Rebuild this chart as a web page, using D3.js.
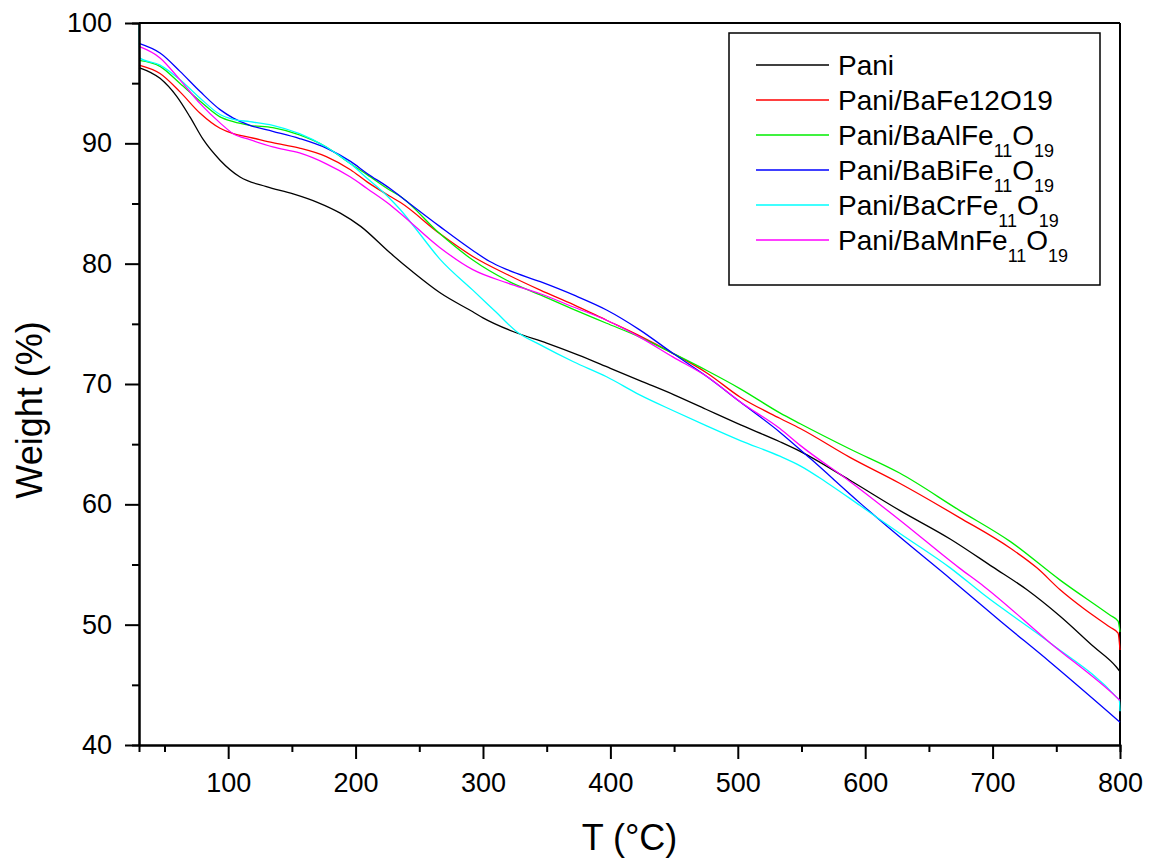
<!DOCTYPE html>
<html><head><meta charset="utf-8">
<script src="https://cdn.jsdelivr.net/npm/d3@7"></script>
<style>
body{margin:0;background:#fff;}
text{font-family:"Liberation Sans",Arial,sans-serif;fill:#000;}
</style></head>
<body><svg id="chart" width="1153" height="865"></svg>
<script>
// ---------- data ----------
const seriesNames = ["Pani","Pani/BaFe12O19","Pani/BaAlFe11O19","Pani/BaBiFe11O19","Pani/BaCrFe11O19","Pani/BaMnFe11O19"];
const legendParts = [
  [["Pani",0]],
  [["Pani/BaFe12O19",0]],
  [["Pani/BaAlFe",0],["11",1],["O",0],["19",1]],
  [["Pani/BaBiFe",0],["11",1],["O",0],["19",1]],
  [["Pani/BaCrFe",0],["11",1],["O",0],["19",1]],
  [["Pani/BaMnFe",0],["11",1],["O",0],["19",1]]
];
const seriesColors = ["#000000","#ff0000","#00ee00","#0000ff","#00ffff","#ff00ff"];

const pani = [[30,96.3],[46.5,95.4],[59.6,93.9],[70,92.2],[80.5,90.3],[93.6,88.6],[109.3,87.2],[130,86.4],[151,85.8],[170,85.1],[188,84.2],[204,83.1],[227,80.9],[245,79.3],[266,77.6],[292,76.0],[300,75.5],[325,74.3],[350,73.4],[375,72.4],[400,71.3],[425,70.2],[450,69.1],[475,67.9],[500,66.7],[533,65.2],[549,64.4],[588,62.0],[627,59.5],[667,57.1],[700,54.8],[727,52.9],[753,50.7],[779,48.2],[797,46.5],[800,46.1]];
const baFe = [[30,96.5],[46.5,95.8],[62,94.3],[78,92.5],[93.6,91.25],[104,90.8],[117,90.5],[135,90.05],[156,89.6],[177,88.9],[196,87.8],[209,86.8],[227,85.6],[235,85.1],[266,82.5],[292,80.6],[319,79.1],[345,77.8],[371,76.6],[397,75.3],[423,74.0],[449,72.55],[476,70.9],[502,68.9],[533,67.15],[549,66.3],[588,63.9],[627,61.75],[674,58.9],[714,56.35],[735,54.7],[753,52.9],[772,51.3],[792,49.8],[798.5,49.3],[800,47.9]];
const baAl = [[30,96.9],[46.5,96.4],[62,95.0],[78,93.5],[93.6,92.2],[104,91.8],[117,91.5],[135,91.3],[156,90.7],[177,89.7],[196,88.3],[209,87.4],[227,86.1],[235,85.6],[266,82.5],[292,80.3],[319,78.6],[345,77.4],[371,76.2],[397,75.05],[423,73.9],[449,72.55],[476,71.1],[502,69.6],[533,67.6],[549,66.7],[588,64.6],[627,62.6],[674,59.5],[714,56.9],[753,53.7],[792,50.8],[798.5,50.3],[800,49.4]];
const baBi = [[30,98.3],[46.5,97.5],[62,96.0],[78,94.3],[93.6,92.8],[104,92.1],[117,91.5],[135,91.0],[156,90.4],[177,89.6],[196,88.5],[209,87.5],[227,86.25],[235,85.6],[266,83.1],[292,81.1],[305,80.2],[319,79.5],[345,78.5],[371,77.4],[397,76.15],[423,74.5],[449,72.55],[476,70.6],[502,68.5],[533,66.0],[557,63.8],[596,60.1],[627,57.3],[667,53.8],[706,50.3],[745,46.9],[800,41.9]];
const baCr = [[30,100],[30.5,97.1],[46.5,96.5],[62,95.3],[78,93.75],[93.6,92.4],[104,92.0],[117,91.8],[135,91.5],[156,90.8],[177,89.7],[196,88.3],[209,87.1],[227,85.4],[235,84.5],[248,82.8],[266,80.4],[292,77.8],[310,76.0],[326.5,74.35],[345,73.25],[371,71.85],[397,70.6],[423,69.1],[449,67.8],[476,66.5],[502,65.3],[533,64.0],[549,63.2],[570,61.8],[596,59.9],[627,57.6],[667,54.7],[693,52.5],[745,48.5],[797,44.0],[799.5,43.7],[800,42.8]];
const baMn = [[30,98.05],[46.5,97.1],[62,95.3],[78,93.3],[93.6,91.7],[104,90.8],[117,90.3],[135,89.7],[156,89.2],[177,88.3],[196,87.2],[209,86.25],[227,84.9],[235,84.2],[266,81.35],[292,79.5],[319,78.4],[345,77.5],[371,76.4],[397,75.3],[423,73.9],[449,72.25],[476,70.6],[502,68.5],[533,66.3],[549,64.9],[588,61.9],[627,58.7],[674,54.7],[693,53.2],[745,48.5],[797,44.0],[800,43.7]];
const seriesData = [pani, baFe, baAl, baBi, baCr, baMn];

const xMajorTicks = [100,200,300,400,500,600,700,800];
const xMinorTicks = [50,150,250,350,450,550,650,750];
const yMajorTicks = [40,50,60,70,80,90,100];
const yMinorTicks = [45,55,65,75,85,95];
const xTitle = "T (°C)";
const yTitle = "Weight (%)";

// ---------- layout ----------
const L = 139, R = 1120, T = 23, B = 745;
const svg = d3.select("#chart");
const x = d3.scaleLinear().domain([30, 800]).range([L, R]);
const y = d3.scaleLinear().domain([40, 100]).range([B, T]);

// frame top/right
svg.append("line").attr("x1", L).attr("x2", R).attr("y1", T).attr("y2", T).attr("stroke", "#000").attr("stroke-width", 2);
svg.append("line").attr("x1", R).attr("x2", R).attr("y1", T).attr("y2", B).attr("stroke", "#000").attr("stroke-width", 2);

// curves
const line = d3.line().x(d => x(d[0])).y(d => y(d[1])).curve(d3.curveMonotoneX);
seriesData.forEach((s, i) => {
  svg.append("path").datum(s).attr("d", line).attr("fill", "none")
    .attr("stroke", seriesColors[i]).attr("stroke-width", 1.3);
});

// axes
function styleAxis(g){
  g.selectAll("path.domain").attr("stroke", "#000").attr("stroke-width", 2);
  g.selectAll(".tick line").attr("stroke", "#000").attr("stroke-width", 2);
  g.selectAll(".tick text").attr("font-size", 27).attr("font-family", '"Liberation Sans",Arial,sans-serif').attr("fill", "#000");
}
const gxMinor = svg.append("g").attr("transform", `translate(0,${B})`)
  .call(d3.axisBottom(x).tickValues(xMinorTicks).tickSize(7).tickFormat(""));
styleAxis(gxMinor);
const gx = svg.append("g").attr("transform", `translate(0,${B})`)
  .call(d3.axisBottom(x).tickValues(xMajorTicks).tickSize(14).tickPadding(14).tickSizeOuter(0).tickFormat(d3.format("d")));
styleAxis(gx);
const gyMinor = svg.append("g").attr("transform", `translate(${L},0)`)
  .call(d3.axisLeft(y).tickValues(yMinorTicks).tickSize(7).tickFormat(""));
styleAxis(gyMinor);
const gy = svg.append("g").attr("transform", `translate(${L},0)`)
  .call(d3.axisLeft(y).tickValues(yMajorTicks).tickSize(14).tickPadding(13).tickSizeOuter(0).tickFormat(d3.format("d")));
styleAxis(gy);

// titles
svg.append("text").attr("x", (L + R) / 2).attr("y", 850).attr("text-anchor", "middle")
  .attr("font-size", 36).text(xTitle);
svg.append("text").attr("transform", "translate(42,410) rotate(-90)").attr("text-anchor", "middle")
  .attr("font-size", 36).text(yTitle);

// legend
const lg = svg.append("g");
lg.append("rect").attr("x", 729).attr("y", 33).attr("width", 371).attr("height", 252)
  .attr("fill", "#fff").attr("stroke", "#000").attr("stroke-width", 1.5);
legendParts.forEach((parts, i) => {
  const by = 75 + i * 35;
  lg.append("line").attr("x1", 756).attr("x2", 829).attr("y1", by - 10).attr("y2", by - 10)
    .attr("stroke", seriesColors[i]).attr("stroke-width", 1.5);
  const t = lg.append("text").attr("x", 838).attr("y", by).attr("font-size", 28);
  let sub = 0;
  parts.forEach(([txt, isSub]) => {
    const dy = isSub ? (sub ? 0 : 12) : (sub ? -12 : 0);
    t.append("tspan").attr("dy", dy).attr("font-size", isSub ? 18 : 28).text(txt);
    sub = isSub;
  });
});
</script></body></html>
